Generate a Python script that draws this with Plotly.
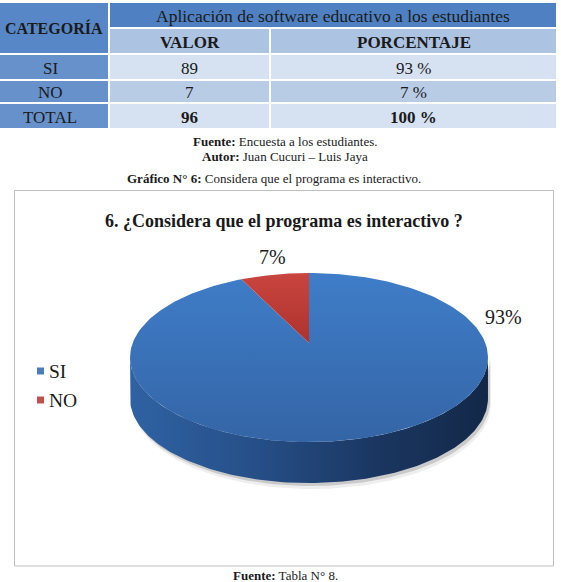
import numpy as np
import plotly.graph_objects as go

# ---------------- data ----------------
categories = ["SI", "NO"]
values = [89, 7]
pct_labels = ["93%", "7%"]

table_cats = ["SI", "NO", "TOTAL"]
table_vals = ["89", "7", "96"]
table_pcts = ["93 %", "7 %", "100 %"]
table_bold = [False, False, True]

chart_title = "6. ¿Considera que el programa es interactivo ?"
table_group_header = "Aplicación de software educativo a los estudiantes"
table_col_headers = ["CATEGORÍA", "VALOR", "PORCENTAJE"]

# ---------------- styling / layout ----------------
W, H = 561, 582
FONT = "Liberation Serif"
top_colors = [
    [[0, "#3F7DC8"], [1, "#3465A6"]],
    [[0, "#C9453F"], [1, "#AE322D"]],
]
side_colors = [
    [[0, "#2F62A3"], [0.35, "#264F88"], [0.7, "#1A3660"], [1, "#132848"]],
    [[0, "#8E2A26"], [1, "#5E1815"]],
]
legend_colors = ["#4A7EBB", "#C0504D"]

# perspective pie geometry
CX, CY = 309.0, 343.0
A_, B_, K_ = 82.0, 176.3, 0.172
DEPTH = 41.0


def proj(phi_deg, drop=0.0, dx=0.0):
    p = np.radians(phi_deg)
    X, Z = np.sin(p), np.cos(p)
    w = 1 + K_ * Z
    return CX + B_ * X / w + dx, CY - A_ * Z / w + drop


fig = go.Figure()

total = float(sum(values))
bounds = np.concatenate([[0.0], np.cumsum(values) / total * 360.0])
phi_r = np.degrees(np.arccos(-K_))
phi_l = 360.0 - phi_r

# shadow under the side
for (sx, sy, col) in [(3, 6, "rgba(160,160,160,0.18)"), (2, 3, "rgba(120,120,120,0.30)")]:
    ph = np.linspace(phi_r, phi_l, 120)
    tx, ty = proj(ph, 0, sx)
    bx, by = proj(ph[::-1], DEPTH + sy, sx)
    fig.add_trace(go.Scatter(x=np.concatenate([tx, bx]), y=np.concatenate([ty, by]),
                             fill="toself", mode="lines", line=dict(width=0),
                             fillcolor=col, hoverinfo="skip", showlegend=False))

# side walls
xl, _ = proj(phi_l)
xr, _ = proj(phi_r)
for i in range(len(values)):
    lo, hi = max(bounds[i], phi_r), min(bounds[i + 1], phi_l)
    if hi <= lo:
        continue
    ph = np.linspace(lo, hi, 150)
    tx, ty = proj(ph)
    bx, by = proj(ph[::-1], DEPTH)
    fig.add_trace(go.Scatter(x=np.concatenate([tx, bx]), y=np.concatenate([ty, by]),
                             fill="toself", mode="lines", line=dict(width=0),
                             fillgradient=dict(type="horizontal", colorscale=side_colors[i],
                                               start=min(xl, xr), stop=max(xl, xr)),
                             hoverinfo="skip", showlegend=False))

# top faces
for i in range(len(values)):
    ph = np.linspace(bounds[i], bounds[i + 1], 200)
    ax, ay = proj(ph)
    xs = np.concatenate([[CX], ax, [CX]])
    ys = np.concatenate([[CY], ay, [CY]])
    _, ytop = proj(0)
    _, ybot = proj(180)
    fig.add_trace(go.Scatter(x=xs, y=ys, fill="toself", mode="lines", line=dict(width=0),
                             fillgradient=dict(type="vertical", colorscale=top_colors[i],
                                               start=ytop, stop=ybot if i == 0 else CY),
                             name=categories[i], hoverinfo="skip", showlegend=False))

shapes = []
annotations = []


def txt(x, y, s, size, bold=False, xanchor="center", color="#1a1a1a"):
    if bold:
        s = "<b>" + s + "</b>"
    annotations.append(dict(x=x, y=y, xref="x", yref="y", text=s, showarrow=False,
                            xanchor=xanchor, yanchor="middle",
                            font=dict(family=FONT, size=size, color=color)))


# data labels
label_pos = [(503, 317), (272, 257)]
for i in range(len(values)):
    txt(label_pos[i][0], label_pos[i][1], pct_labels[i], 20)

# legend
leg_y = [371, 400]
for i in range(len(categories)):
    shapes.append(dict(type="rect", xref="x", yref="y", x0=37, x1=44,
                       y0=leg_y[i] - 3.5, y1=leg_y[i] + 3.5,
                       fillcolor=legend_colors[i], line=dict(width=0)))
    txt(47, leg_y[i], categories[i], 19.5, xanchor="left")

# chart title and border
txt(284, 221, chart_title, 18, bold=True)
shapes.append(dict(type="rect", xref="x", yref="y", x0=14.5, x1=553.5, y0=190.5, y1=566,
                   line=dict(color="#BFBFBF", width=1), fillcolor="rgba(0,0,0,0)", layer="below"))

# ---------------- table ----------------
col_x = [(-8, 108), (110, 269), (271, 556)]
hdr1 = (3, 27)
hdr2 = (29, 53)
body_rows = [(55, 79), (81, 102), (104, 128)]
c_dark = "#4F81C2"
c_cat = "#5787C6"
c_catbody = "#6791CB"
c_hdr2 = "#ADC3E2"
c_rows = ["#D6E2F1", "#B8CCE6", "#D6E2F1"]


def rect(x0, x1, y0, y1, col):
    shapes.append(dict(type="rect", xref="x", yref="y", x0=x0, x1=x1, y0=y0, y1=y1,
                       fillcolor=col, line=dict(width=0), layer="below"))


rect(col_x[0][0], col_x[0][1], hdr1[0], hdr2[1], c_cat)
rect(col_x[1][0], col_x[2][1], hdr1[0], hdr1[1], c_dark)
rect(col_x[1][0], col_x[1][1], hdr2[0], hdr2[1], c_hdr2)
rect(col_x[2][0], col_x[2][1], hdr2[0], hdr2[1], c_hdr2)
txt(54, (hdr1[0] + hdr2[1]) / 2, table_col_headers[0], 16, bold=True)
txt((col_x[1][0] + col_x[2][1]) / 2, sum(hdr1) / 2 + 0.5, table_group_header, 17.5)
txt(sum(col_x[1]) / 2, sum(hdr2) / 2 + 1, table_col_headers[1], 17, bold=True)
txt(sum(col_x[2]) / 2, sum(hdr2) / 2 + 1, table_col_headers[2], 17, bold=True)

for i, (y0, y1) in enumerate(body_rows):
    rect(col_x[0][0], col_x[0][1], y0, y1, c_catbody)
    rect(col_x[1][0], col_x[1][1], y0, y1, c_rows[i])
    rect(col_x[2][0], col_x[2][1], y0, y1, c_rows[i])
    yc = (y0 + y1) / 2 + 1
    txt(sum(col_x[0]) / 2, yc, table_cats[i], 17)
    txt(sum(col_x[1]) / 2, yc, table_vals[i], 17, bold=table_bold[i])
    txt(sum(col_x[2]) / 2, yc, table_pcts[i], 17, bold=table_bold[i])

# captions
txt(285, 141, "<b>Fuente:</b> Encuesta a los estudiantes.", 13)
txt(285, 156, "<b>Autor:</b> Juan Cucuri – Luis Jaya", 13)
txt(274, 178, "<b>Gráfico N° 6:</b> Considera que el programa es interactivo.", 13)
txt(285, 575, "<b>Fuente:</b> Tabla N° 8.", 13)

fig.update_layout(
    width=W, height=H, margin=dict(l=0, r=0, t=0, b=0),
    paper_bgcolor="white", plot_bgcolor="white",
    xaxis=dict(range=[0, W], visible=False, fixedrange=True, domain=[0, 1]),
    yaxis=dict(range=[H, 0], visible=False, fixedrange=True, domain=[0, 1]),
    shapes=shapes, annotations=annotations, showlegend=False,
    hovermode=False,
)
fig.write_html("out.html", config={"displayModeBar": False})
